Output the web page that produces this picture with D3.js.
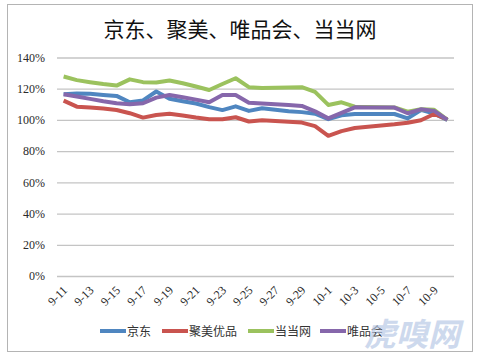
<!DOCTYPE html>
<html>
<head>
<meta charset="utf-8">
<script src="https://cdn.jsdelivr.net/npm/d3@7"></script>
<style>
  body { margin: 0; background: #ffffff; }
  svg { display: block; }
</style>
</head>
<body>
<div id="chart"></div>
<script>
// chart values
const DATES = ["9-11","9-12","9-13","9-14","9-15","9-16","9-17","9-18","9-19","9-20",
               "9-21","9-22","9-23","9-24","9-25","9-26","9-27","9-28","9-29","9-30",
               "10-1","10-2","10-3","10-4","10-5","10-6","10-7","10-8","10-9","10-10"];
const JD = [116.5,117,116.7,116,115.4,111.3,112.5,118.2,113.6,112,
            110.5,108.2,106.3,108.7,105.8,107.5,106.5,105.5,105,104,
            100.5,103,103.8,103.8,103.8,103.8,101,106.4,104,100];
const JUMEI = [112.4,108.5,108,107.3,106.4,104.3,101.5,103.2,104,102.8,
               101.5,100.4,100.4,101.7,99,99.8,99.3,98.9,98.3,96,
               89.8,92.8,94.8,95.7,96.5,97.2,98.2,99.8,103.8,100.4];
const DANGDANG = [127.8,125.5,124.2,123,122,126,124.2,124,125.3,123.5,
                  121.4,119.2,123,126.7,121,120.5,120.6,120.8,121,118,
                  109.6,111.3,108.5,108.3,108.2,108,105.3,106.8,106.5,100];
const VIP = [116.5,115,113.5,112,110.7,110,110.7,114.3,116,114.5,
             113,111.3,116,116,111,110.5,110,109.6,109,105.5,
             101,104.5,108.1,108,108,107.9,104.3,106.8,105.8,100];
const Y_TICKS = [0,20,40,60,80,100,120,140];
const X_TICKS = DATES.filter((d, i) => i % 2 === 0);

const SERIES = [
  {name: "京东", values: JD, color: "#4f86c0"},
  {name: "聚美优品", values: JUMEI, color: "#c9544f"},
  {name: "当当网", values: DANGDANG, color: "#9bc25e"},
  {name: "唯品会", values: VIP, color: "#8667ab"}
];

const FRAME_WIDTH = 480;
const FRAME_HEIGHT = 354;
const MARGINS = {left: 57, right: 26, top: 57.5, bottom: 78};
const VIS_WIDTH = FRAME_WIDTH - MARGINS.left - MARGINS.right;
const VIS_HEIGHT = FRAME_HEIGHT - MARGINS.top - MARGINS.bottom;

const svg = d3.select("#chart")
  .append("svg")
    .attr("width", FRAME_WIDTH)
    .attr("height", FRAME_HEIGHT);

// outer chart border
svg.append("rect")
  .attr("x", 7.5).attr("y", 4.5)
  .attr("width", 465).attr("height", 347)
  .attr("fill", "#ffffff")
  .attr("stroke", "#b4b4b4");

// title
svg.append("text")
  .attr("x", 240).attr("y", 37)
  .attr("text-anchor", "middle")
  .style("font-family", "'Noto Sans CJK SC'")
  .style("font-size", "21px")
  .style("fill", "#111")
  .text("京东、聚美、唯品会、当当网");

const plot = svg.append("g")
  .attr("transform", "translate(" + MARGINS.left + "," + MARGINS.top + ")");

const xScale = d3.scalePoint()
  .domain(DATES)
  .range([0, VIS_WIDTH])
  .padding(0.5);

const yScale = d3.scaleLinear()
  .domain([0, 140])
  .range([VIS_HEIGHT, 0]);

// y axis with gridlines
const yAxis = plot.append("g")
  .call(d3.axisLeft(yScale)
    .tickValues(Y_TICKS)
    .tickSize(-VIS_WIDTH)
    .tickPadding(12)
    .tickFormat(d => d + "%"));
yAxis.select(".domain").remove();
yAxis.selectAll("line").attr("stroke", "#c4c4c4").attr("stroke-width", 1.3);
yAxis.selectAll("text")
  .style("font-family", "'Liberation Serif', serif")
  .style("font-size", "12px")
  .style("fill", "#2a2a2a");

// x axis labels
const xAxis = plot.append("g")
  .attr("transform", "translate(0," + VIS_HEIGHT + ")")
  .call(d3.axisBottom(xScale).tickValues(X_TICKS).tickSize(0));
xAxis.select(".domain").remove();
xAxis.selectAll("text")
  .attr("text-anchor", "end")
  .attr("dy", null)
  .attr("y", 0)
  .attr("transform", "translate(4,15) rotate(-45)")
  .style("font-family", "'Liberation Serif', serif")
  .style("font-size", "12px")
  .style("fill", "#2a2a2a");

// lines
const line = d3.line()
  .x((d, i) => xScale(DATES[i]))
  .y(d => yScale(d));

plot.selectAll(".series")
  .data(SERIES)
  .enter()
  .append("path")
    .attr("class", "series")
    .attr("d", d => line(d.values))
    .attr("fill", "none")
    .attr("stroke", d => d.color)
    .attr("stroke-width", 4)
    .attr("stroke-linejoin", "round");

// legend
const LEGEND_X = [100, 162, 248, 320];
const legend = svg.append("g").attr("transform", "translate(0,331)");
const item = legend.selectAll(".item")
  .data(SERIES)
  .enter()
  .append("g")
    .attr("transform", (d, i) => "translate(" + LEGEND_X[i] + ",0)");
item.append("line")
  .attr("x1", 0).attr("x2", 26)
  .attr("stroke", d => d.color)
  .attr("stroke-width", 4);
item.append("text")
  .attr("x", 27).attr("y", 4.5)
  .style("font-family", "'Noto Sans CJK SC'")
  .style("font-size", "12px")
  .style("fill", "#333")
  .text(d => d.name);

// watermark
svg.append("text")
  .attr("transform", "translate(364,346) skewX(-14)")
  .style("font-family", "'Noto Sans CJK SC'")
  .style("font-weight", "bold")
  .style("font-size", "32px")
  .style("fill", "#b9c9e6")
  .style("opacity", 0.7)
  .text("虎嗅网");
</script>
</body>
</html>
